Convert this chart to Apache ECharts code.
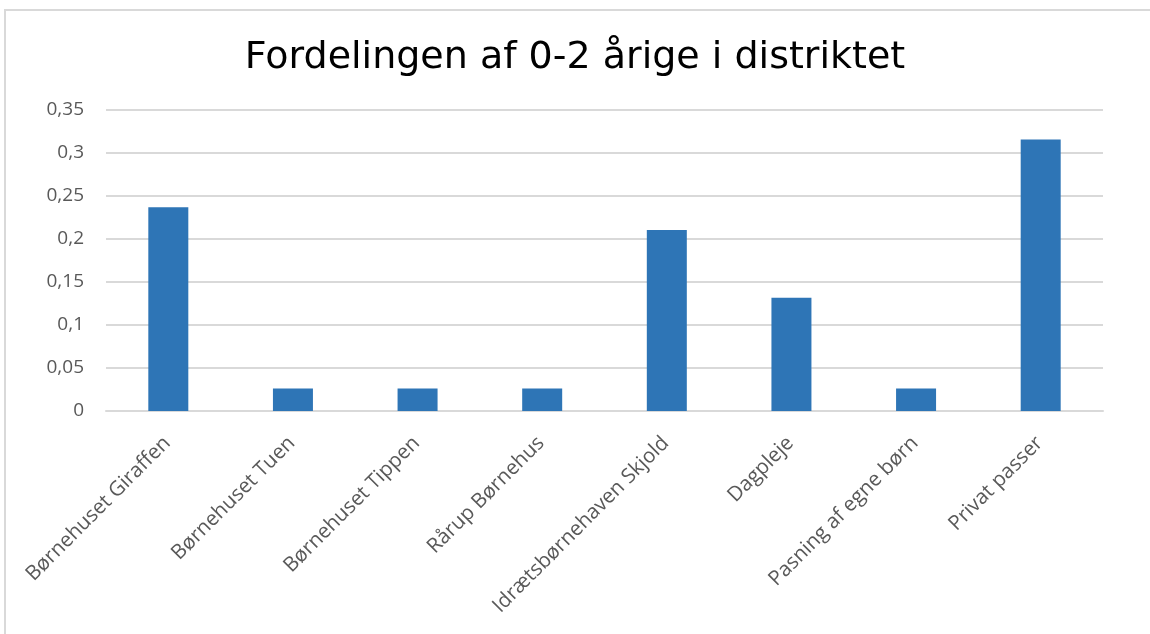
<!DOCTYPE html>
<html>
<head>
<meta charset="utf-8">
<script src="https://cdn.jsdelivr.net/npm/echarts@6/dist/echarts.min.js"></script>
<style>
  html, body { margin: 0; padding: 0; background: #fff; }
  #frame { position: absolute; left: 4px; top: 9px; width: 1146px; height: 625px;
           border-left: 2px solid #d9d9d9; border-top: 2px solid #d9d9d9; box-sizing: border-box; }
  #chart { position: absolute; left: 0; top: 0; width: 1150px; height: 634px; }
</style>
</head>
<body>
<div id="frame"></div>
<div id="chart"></div>
<script>
const titleText = 'Fordelingen af 0-2 årige i distriktet';
const categories = [
  'Børnehuset Giraffen',
  'Børnehuset Tuen',
  'Børnehuset Tippen',
  'Rårup Børnehus',
  'Idrætsbørnehaven Skjold',
  'Dagpleje',
  'Pasning af egne børn',
  'Privat passer'
];
const values = [0.2368, 0.0263, 0.0263, 0.0263, 0.2105, 0.1316, 0.0263, 0.3158];
const yMin = 0, yMax = 0.35, yStep = 0.05;

const chart = echarts.init(document.getElementById('chart'), null, { renderer: 'canvas' });
chart.setOption({
  backgroundColor: 'transparent',
  animation: false,
  title: {
    text: titleText,
    left: 'center',
    top: 34,
    textStyle: { fontFamily: 'DejaVu Sans', fontSize: 38, fontWeight: 'normal', color: '#000' }
  },
  grid: { left: 106, right: 47, top: 110, bottom: 223, containLabel: false },
  xAxis: {
    type: 'category',
    data: categories,
    axisLine: { show: true, lineStyle: { color: '#d9d9d9', width: 2 } },
    axisTick: { show: false },
    axisLabel: {
      rotate: 45,
      interval: 0,
      margin: 13,
      verticalAlign: 'top',
      padding: [0, 12, 0, 0],
      color: '#595959',
      fontFamily: 'Open Sans',
      fontSize: 20.5
    }
  },
  yAxis: {
    type: 'value',
    min: yMin,
    max: yMax,
    interval: yStep,
    axisLine: { show: false },
    axisTick: { show: false },
    splitLine: { lineStyle: { color: '#d9d9d9', width: 2 } },
    axisLabel: {
      margin: 22,
      color: '#595959',
      fontFamily: 'Open Sans',
      fontSize: 19,
      formatter: v => String(+v.toFixed(2)).replace('.', ',')
    }
  },
  series: [{
    type: 'bar',
    data: values,
    barWidth: 40,
    itemStyle: { color: '#2e75b6' }
  }]
});
</script>
</body>
</html>
